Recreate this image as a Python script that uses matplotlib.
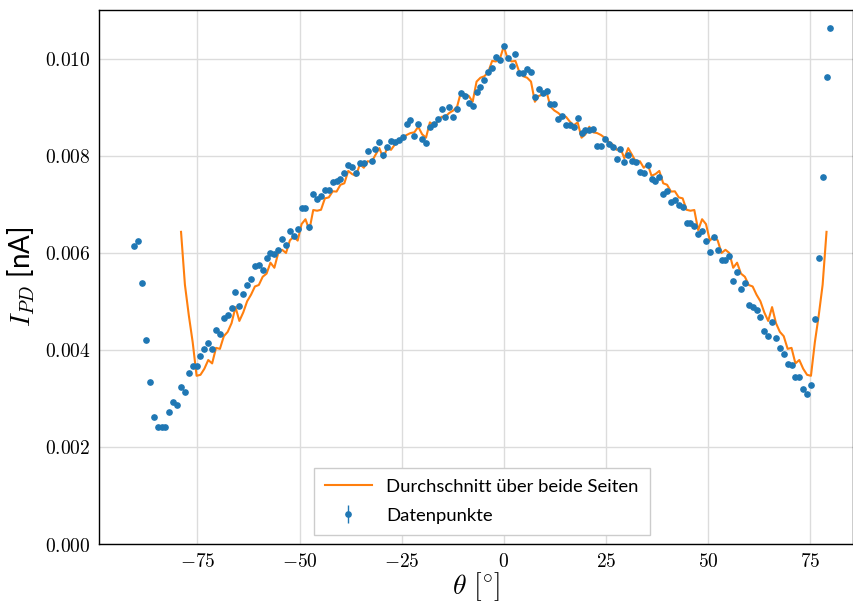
import numpy as np
import matplotlib
matplotlib.use("Agg")
import matplotlib.pyplot as plt
from matplotlib.ticker import FuncFormatter

# ---- data -------------------------------------------------------------
angle_step = 0.952                      # degrees per measurement step
step_index = np.arange(-95, 85)         # measurement steps
current_nA = [
    0.00613, 0.00625, 0.00537, 0.00420, 0.00333, 0.00261, 0.00241, 0.00241, 0.00241, 0.00272,   # -95..-86
    0.00292, 0.00286, 0.00323, 0.00313, 0.00352, 0.00367, 0.00366, 0.00388, 0.00402, 0.00414,   # -85..-76
    0.00401, 0.00440, 0.00433, 0.00465, 0.00471, 0.00486, 0.00519, 0.00491, 0.00516, 0.00533,   # -75..-66
    0.00545, 0.00573, 0.00575, 0.00564, 0.00589, 0.00599, 0.00597, 0.00605, 0.00628, 0.00615,   # -65..-56
    0.00645, 0.00634, 0.00649, 0.00693, 0.00693, 0.00654, 0.00720, 0.00711, 0.00716, 0.00730,   # -55..-46
    0.00729, 0.00745, 0.00748, 0.00752, 0.00764, 0.00780, 0.00776, 0.00765, 0.00785, 0.00785,   # -45..-36
    0.00810, 0.00788, 0.00814, 0.00829, 0.00802, 0.00818, 0.00830, 0.00829, 0.00833, 0.00838,   # -35..-26
    0.00865, 0.00874, 0.00841, 0.00866, 0.00835, 0.00827, 0.00859, 0.00866, 0.00876, 0.00896,   # -25..-16
    0.00880, 0.00901, 0.00880, 0.00896, 0.00929, 0.00923, 0.00909, 0.00902, 0.00932, 0.00942,   # -15..-6
    0.00956, 0.00973, 0.00981, 0.01003, 0.00997, 0.01025, 0.01002, 0.00985, 0.01009, 0.00971,   # -5..4
    0.00971, 0.00979, 0.00973, 0.00920, 0.00937, 0.00929, 0.00934, 0.00906, 0.00906, 0.00875,   # 5..14
    0.00881, 0.00864, 0.00864, 0.00859, 0.00878, 0.00847, 0.00853, 0.00853, 0.00855, 0.00819,   # 15..24
    0.00820, 0.00835, 0.00824, 0.00817, 0.00794, 0.00813, 0.00787, 0.00802, 0.00789, 0.00786,   # 25..34
    0.00767, 0.00765, 0.00780, 0.00752, 0.00748, 0.00757, 0.00722, 0.00728, 0.00704, 0.00708,   # 35..44
    0.00699, 0.00694, 0.00661, 0.00662, 0.00656, 0.00639, 0.00645, 0.00625, 0.00601, 0.00632,   # 45..54
    0.00606, 0.00584, 0.00584, 0.00594, 0.00541, 0.00560, 0.00525, 0.00537, 0.00492, 0.00488,   # 55..64
    0.00482, 0.00467, 0.00438, 0.00428, 0.00457, 0.00424, 0.00403, 0.00391, 0.00371, 0.00368,   # 65..74
    0.00343, 0.00344, 0.00320, 0.00309, 0.00327, 0.00464, 0.00590, 0.00755, 0.00963, 0.01063,   # 75..84
]
current_err = 0.00002
avg_max_step = 83

x_ticks = [-75, -50, -25, 0, 25, 50, 75]
y_ticks = [0.000, 0.002, 0.004, 0.006, 0.008, 0.010]

# ---- derived ------------------------------------------------------------
theta = step_index * angle_step
y = np.array(current_nA)
lookup = dict(zip(step_index.tolist(), y.tolist()))
avg_idx = np.arange(-avg_max_step, avg_max_step + 1)
avg_theta = avg_idx * angle_step
avg_val = np.array([(lookup[k] + lookup[-k]) / 2 for k in avg_idx])

# ---- style --------------------------------------------------------------
plt.rcParams['mathtext.fontset'] = 'cm'
plt.rcParams['font.family'] = ['Lato', 'DejaVu Sans']

fig = plt.figure(figsize=(8.54, 6.04), dpi=100)
ax = fig.add_axes([99 / 854, 60 / 604, 754 / 854, 534 / 604])

ax.grid(True, color='#dcdcdc', linewidth=1.0, zorder=0)
ax.set_axisbelow(True)

line, = ax.plot(avg_theta, avg_val, color='#ff7f0e', linewidth=1.5,
                label='Durchschnitt über beide Seiten', zorder=3)
eb = ax.errorbar(theta, y, yerr=current_err, fmt='o', color='#1f77b4',
                 markersize=3.8, elinewidth=1.0, label='Datenpunkte', zorder=4)

ax.set_xlim(-99.1, 85.5)
ax.set_ylim(0, 0.011)
ax.set_xticks(x_ticks)
ax.set_yticks(y_ticks)
ax.xaxis.set_major_formatter(FuncFormatter(lambda v, p: f'${int(round(v))}$'))
ax.yaxis.set_major_formatter(FuncFormatter(lambda v, p: f'${v:.3f}$'))
ax.tick_params(axis='both', length=0, labelsize=14, pad=6)

for s in ax.spines.values():
    s.set_color('black')
    s.set_linewidth(1.0)

ax.set_xlabel(r'$\theta\ [^{\circ}]$', fontsize=20, labelpad=0)
ax.set_ylabel(r'$I_{PD}$ [nA]', fontsize=20, labelpad=6)

leg = ax.legend(handles=[line, eb], loc='lower center',
                bbox_to_anchor=(0.508, 0.0), fontsize=13.3, frameon=True,
                fancybox=False, edgecolor='#cccccc', framealpha=1.0,
                handlelength=2.5, labelspacing=0.7, borderpad=0.6)

fig.savefig('out.png', dpi=100)
